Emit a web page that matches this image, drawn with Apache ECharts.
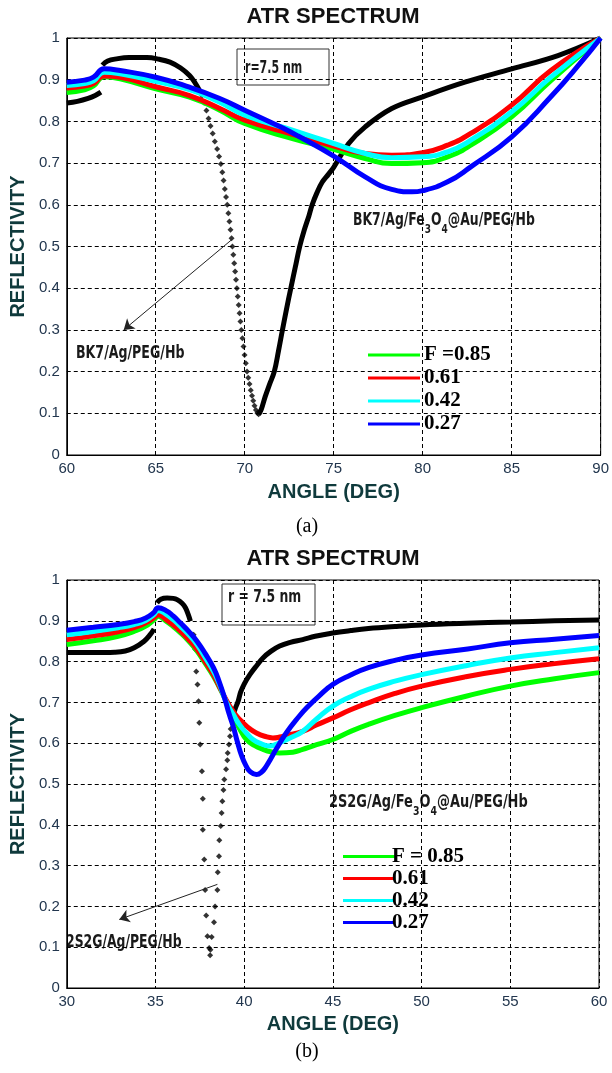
<!DOCTYPE html>
<html>
<head>
<meta charset="utf-8">
<script src="https://cdn.jsdelivr.net/npm/echarts@6/dist/echarts.min.js"></script>
<style>
  html, body { margin: 0; padding: 0; background: #fff; }
  #chart { width: 612px; height: 1073px; }
</style>
</head>
<body>
<div id="chart"></div>
<script>
// ---------- (a) BK7 prism : reflectivity vs angle (60–90 deg) ----------
const xTicksA = [60, 90, 5];
// bare BK7/Ag/PEG/Hb : continuous parts ('-' breaks the line)
const bk7Line = [
  [60, 0.844], [60.6, 0.848], [61.2, 0.855], [61.6, 0.862], [61.92, 0.87], [61.96, '-'],
  [62.0, 0.935], [62.3, 0.945], [62.8, 0.95], [63.5, 0.953], [64.5, 0.953], [65.2, 0.949],
  [65.8, 0.942], [66.4, 0.928], [66.9, 0.91], [67.2, 0.893], [67.45, 0.875], [67.5, '-'],
  [70.78, 0.098], [70.92, 0.108], [71.15, 0.14], [71.4, 0.17], [71.66, 0.2], [71.9, 0.25],
  [72.12, 0.3], [72.35, 0.35], [72.59, 0.4], [72.84, 0.45], [73.09, 0.5], [73.35, 0.54],
  [73.61, 0.574], [73.79, 0.6], [74.05, 0.628], [74.35, 0.654], [74.7, 0.673], [75.0, 0.69],
  [75.84, 0.747], [76.77, 0.787], [78.26, 0.831], [80, 0.859], [82.37, 0.894], [85, 0.926],
  [87.6, 0.958], [90, 1.0]
];
// bare BK7/Ag/PEG/Hb : separate points on the steep falling edge
const bk7Dots = [
  [67.6, 0.862], [67.72, 0.845], [67.85, 0.826], [67.97, 0.807], [68.08, 0.789], [68.2, 0.771],
  [68.32, 0.752], [68.45, 0.734], [68.56, 0.716], [68.66, 0.698], [68.74, 0.678], [68.81, 0.658],
  [68.88, 0.638], [68.95, 0.619], [69.02, 0.6], [69.08, 0.58], [69.14, 0.56], [69.2, 0.54],
  [69.26, 0.52], [69.31, 0.5], [69.36, 0.48], [69.41, 0.46], [69.46, 0.44], [69.51, 0.42],
  [69.56, 0.4], [69.61, 0.38], [69.66, 0.36], [69.71, 0.34], [69.76, 0.32], [69.81, 0.3],
  [69.87, 0.28], [69.93, 0.26], [69.99, 0.24], [70.06, 0.22], [70.13, 0.2], [70.2, 0.185],
  [70.27, 0.17], [70.34, 0.155], [70.41, 0.142], [70.48, 0.13], [70.55, 0.118], [70.63, 0.108],
  [70.71, 0.101], [70.78, 0.098]
];
const a085 = [
  [60, 0.869], [61, 0.876], [61.5, 0.885], [62.1, 0.907], [63, 0.902], [65, 0.878], [66.9, 0.858],
  [68.6, 0.827], [70, 0.795], [72.68, 0.759], [75, 0.733], [76.77, 0.711], [78.26, 0.699],
  [80, 0.701], [81.4, 0.715], [82.7, 0.743], [85, 0.811], [87.2, 0.898], [90, 1.0]
];
const a061 = [
  [60, 0.88], [61, 0.885], [61.5, 0.891], [62.1, 0.909], [63, 0.906], [65, 0.883], [66.9, 0.862],
  [68.6, 0.831], [70, 0.803], [72.68, 0.769], [75, 0.741], [76.77, 0.723], [78.26, 0.719],
  [80, 0.725], [81.4, 0.743], [82.7, 0.771], [85, 0.839], [87.2, 0.922], [90, 1.0]
];
const a042 = [
  [60, 0.886], [61, 0.891], [61.5, 0.897], [62.1, 0.918], [63, 0.914], [65, 0.896], [66.9, 0.876],
  [68.6, 0.846], [70, 0.815], [72.68, 0.779], [75, 0.747], [76.77, 0.723], [78.26, 0.713],
  [80, 0.715], [81.4, 0.727], [82.7, 0.755], [85, 0.823], [87.2, 0.906], [90, 1.0]
];
const a027 = [
  [60, 0.894], [61, 0.899], [61.5, 0.906], [62.1, 0.926], [63, 0.922], [65, 0.906], [66.9, 0.882],
  [68.6, 0.855], [70, 0.827], [72, 0.787], [73, 0.765], [75, 0.717], [76.77, 0.667], [78.26, 0.637],
  [79.4, 0.631], [80, 0.634], [81.4, 0.655], [82.7, 0.691], [85, 0.763], [87.2, 0.859],
  [88.9, 0.942], [90, 1.0]
];
const arrowA = [[69.26, 0.516], [63.2, 0.30]];

// ---------- (b) 2S2G prism : reflectivity vs angle (30–60 deg) ----------
const xTicksB = [30, 60, 5];
const s2gLine = [
  [30, 0.822], [31.5, 0.822], [32.7, 0.823], [33.3, 0.826], [33.8, 0.834], [34.36, 0.85],
  [34.7, 0.866], [34.92, 0.88], [35.0, '-'],
  [35.08, 0.944], [35.3, 0.953], [35.66, 0.956], [36.0, 0.955], [36.22, 0.952], [36.5, 0.943],
  [36.69, 0.932], [36.85, 0.915], [36.97, 0.899], [37.0, '-'],
  [39.4, 0.67], [39.48, 0.683], [39.66, 0.703], [39.8, 0.725], [40.0, 0.745], [40.32, 0.768],
  [40.7, 0.79], [41.06, 0.809], [41.5, 0.825], [42, 0.838], [42.6, 0.847], [43.3, 0.854],
  [44, 0.862], [45, 0.87], [46, 0.876], [47, 0.881], [48.5, 0.886], [50, 0.89], [52.5, 0.894],
  [55, 0.897], [57.5, 0.9], [60, 0.902]
];
const s2gDots = [
  [37.15, 0.866], [37.24, 0.83], [37.3, 0.776], [37.37, 0.744], [37.43, 0.703], [37.47, 0.65],
  [37.52, 0.597], [37.62, 0.531], [37.67, 0.464], [37.67, 0.388], [37.75, 0.315], [37.8, 0.24],
  [37.86, 0.178], [37.93, 0.127], [38.03, 0.098], [38.08, 0.08],
  [38.1, 0.094], [38.17, 0.125], [38.3, 0.161], [38.36, 0.2], [38.49, 0.24], [38.51, 0.284],
  [38.58, 0.323], [38.6, 0.362], [38.68, 0.397], [38.73, 0.429], [38.77, 0.458], [38.83, 0.485],
  [38.88, 0.511], [38.98, 0.536], [39.05, 0.558], [39.07, 0.576], [39.14, 0.597], [39.2, 0.617],
  [39.24, 0.635], [39.33, 0.654]
];
const b085 = [
  [30, 0.842], [31.5, 0.851], [32.9, 0.862], [33.8, 0.874], [34.45, 0.887], [34.9, 0.902],
  [35.15, 0.911], [35.6, 0.899], [36.0, 0.886], [36.4, 0.871], [36.9, 0.849], [37.34, 0.826],
  [37.8, 0.796], [38.27, 0.764], [38.8, 0.72], [39.39, 0.666], [39.75, 0.635], [40.13, 0.609],
  [40.6, 0.594], [41.06, 0.585], [41.5, 0.579], [42.0, 0.576], [42.74, 0.578], [43.3, 0.585],
  [43.85, 0.593], [45, 0.609], [46, 0.629], [47, 0.646], [48.5, 0.668], [50, 0.687],
  [52.5, 0.715], [55, 0.74], [57.5, 0.758], [60, 0.773]
];
const b061 = [
  [30, 0.854], [31.5, 0.863], [32.9, 0.873], [33.8, 0.883], [34.45, 0.895], [34.9, 0.907],
  [35.15, 0.915], [35.6, 0.903], [36.0, 0.89], [36.4, 0.875], [36.9, 0.853], [37.34, 0.83],
  [37.8, 0.8], [38.27, 0.768], [38.7, 0.73], [39.2, 0.69], [39.55, 0.668], [39.94, 0.65],
  [40.3, 0.636], [40.69, 0.625], [41.15, 0.617], [41.62, 0.613], [42.0, 0.615], [42.37, 0.619],
  [43.3, 0.629], [44.1, 0.645], [45, 0.662], [46, 0.682], [47, 0.699], [48.5, 0.722], [50, 0.74],
  [52.5, 0.763], [55, 0.781], [57.5, 0.795], [60, 0.807]
];
const b042 = [
  [30, 0.866], [31.5, 0.874], [32.9, 0.883], [33.8, 0.891], [34.45, 0.901], [34.9, 0.915],
  [35.15, 0.925], [35.6, 0.916], [36.0, 0.903], [36.4, 0.887], [36.9, 0.865], [37.34, 0.842],
  [37.8, 0.81], [38.27, 0.776], [38.6, 0.745], [39.0, 0.7], [39.39, 0.67], [39.75, 0.645],
  [40.13, 0.625], [40.5, 0.609], [40.88, 0.6], [41.44, 0.593], [41.8, 0.597], [42.18, 0.605],
  [42.7, 0.615], [43.3, 0.629], [44.1, 0.66], [45, 0.691], [46, 0.714], [47, 0.732],
  [48.5, 0.752], [50, 0.768], [52.5, 0.79], [55, 0.809], [57.5, 0.822], [60, 0.834]
];
const b027 = [
  [30, 0.877], [31.5, 0.884], [32.9, 0.891], [33.8, 0.898], [34.45, 0.907], [34.9, 0.92],
  [35.15, 0.932], [35.6, 0.925], [36.0, 0.912], [36.4, 0.895], [36.9, 0.873], [37.34, 0.85],
  [37.8, 0.82], [38.27, 0.785], [38.6, 0.75], [38.92, 0.707], [39.15, 0.672], [39.39, 0.64],
  [39.62, 0.603], [39.85, 0.57], [40.1, 0.545], [40.32, 0.531], [40.69, 0.523], [41.0, 0.53],
  [41.25, 0.544], [41.5, 0.562], [41.8, 0.585], [42.37, 0.625], [43.1, 0.666], [43.6, 0.69],
  [44.2, 0.715], [45, 0.744], [46, 0.767], [47, 0.785], [48.5, 0.803], [50, 0.816],
  [52.6, 0.831], [55, 0.846], [57.5, 0.855], [60, 0.864]
];
const arrowB = [[38.49, 0.254], [32.96, 0.168]];

const fillNames = ['0.85', '0.61', '0.42', '0.27'];
const fillColors = ['#00ff00', '#ff0000', '#00ffff', '#0000ff'];

// ---------- shared styling ----------
const tickColor = '#22364e';
const nameColor = '#0f3a3c';
const dash = { color: '#000', type: [4, 3], width: 1 };

function xAxisOf(gridIndex, ticks, gap) {
  return {
    gridIndex, type: 'value', min: ticks[0], max: ticks[1], interval: ticks[2],
    axisLine: { show: true, lineStyle: { color: '#000', width: 1 } },
    axisTick: { show: false },
    splitLine: { show: true, lineStyle: dash },
    axisLabel: { color: tickColor, fontSize: 15, margin: 6, fontFamily: 'Liberation Sans' },
    name: 'ANGLE (DEG)', nameLocation: 'middle', nameGap: gap,
    nameTextStyle: { color: nameColor, fontSize: 20, fontWeight: 'bold', fontFamily: 'Liberation Sans' }
  };
}
function yAxisOf(gridIndex, gap) {
  return {
    gridIndex, type: 'value', min: 0, max: 1, interval: 0.1,
    axisLine: { show: true, lineStyle: { color: '#000', width: 1 } },
    axisTick: { show: false },
    splitLine: { show: true, lineStyle: dash },
    axisLabel: { color: tickColor, fontSize: 15, margin: 7, fontFamily: 'Liberation Sans' },
    name: 'REFLECTIVITY', nameLocation: 'middle', nameRotate: 90, nameGap: gap,
    nameTextStyle: { color: nameColor, fontSize: 20, fontWeight: 'bold', fontFamily: 'Liberation Sans' }
  };
}
function curve(name, data, color, idx, width) {
  return {
    name, type: 'line', data, xAxisIndex: idx, yAxisIndex: idx,
    showSymbol: false, smooth: 0.5,
    lineStyle: { color, width }, itemStyle: { color }, z: 3
  };
}
function blackLine(data, idx, width) {
  return {
    type: 'line', data, xAxisIndex: idx, yAxisIndex: idx, showSymbol: false,
    smooth: 0.4, connectNulls: false,
    lineStyle: { color: '#000', width }, itemStyle: { color: '#000' }, z: 2
  };
}
function blackDots(data, idx, arrow) {
  return {
    type: 'scatter', data, xAxisIndex: idx, yAxisIndex: idx,
    symbol: 'diamond', symbolSize: 6, itemStyle: { color: '#000' }, z: 2,
    markLine: {
      silent: true, symbol: ['none', 'arrow'], symbolSize: 10,
      lineStyle: { color: '#222', width: 1, type: 'solid' },
      label: { show: false },
      data: [[{ coord: arrow[0] }, { coord: arrow[1] }]]
    }
  };
}
function legendOf(names, left, top, lh, textPad) {
  return {
    data: names, orient: 'vertical', left, top, selectedMode: false,
    icon: 'rect', itemWidth: 52, itemHeight: 3, itemGap: 1,
    textStyle: {
      fontFamily: 'Liberation Serif', fontWeight: 'bold', fontSize: 21, color: '#000',
      lineHeight: lh, padding: [0, 0, 0, textPad]
    }
  };
}

// narrow bold annotation text
const annoFont = 'bold 18px "DejaVu Sans"';
function anno(x, y, text, sx, rich) {
  return {
    type: 'text', x, y, scaleX: sx, silent: true,
    style: {
      text, font: annoFont, fill: '#1a1a1a',
      align: 'left', verticalAlign: 'middle', textAlign: 'left', textVerticalAlign: 'middle',
      rich: rich ? {
        s: { font: 'bold 13px "DejaVu Sans"', fill: '#1a1a1a', padding: [20, 0, 0, 0] }
      } : undefined
    }
  };
}
function plain(x, y, text, font, fill) {
  return {
    type: 'text', x, y, silent: true,
    style: { text, font, fill, align: 'center', verticalAlign: 'middle',
             textAlign: 'center', textVerticalAlign: 'middle' }
  };
}
function box(x, y, w, h) {
  return { type: 'rect', silent: true, shape: { x, y, width: w, height: h },
           style: { fill: 'transparent', stroke: '#333', lineWidth: 1 } };
}

const namesA = ['F =' + fillNames[0], fillNames[1], fillNames[2], fillNames[3]];
const namesB = ['F = ' + fillNames[0], fillNames[1], fillNames[2], fillNames[3]];

const option = {
  animation: false,
  backgroundColor: '#fff',
  grid: [
    { left: 66, top: 38, width: 538, height: 417, show: true, borderColor: '#000', borderWidth: 1, backgroundColor: '#fff' },
    { left: 62, top: 580, width: 537, height: 408, show: true, borderColor: '#000', borderWidth: 1, backgroundColor: '#fff' }
  ],
  xAxis: [xAxisOf(0, xTicksA, 27), xAxisOf(1, xTicksB, 26)],
  yAxis: [yAxisOf(0, 38), yAxisOf(1, 38)],
  legend: [
    legendOf(namesA, 363, 339, 22, -1),
    legendOf(namesB, 338, 841, 20, -8)
  ],
  series: [
    blackLine(bk7Line, 0, 5),
    blackDots(bk7Dots, 0, arrowA),
    curve(namesA[0], a085, fillColors[0], 0, 5),
    curve(namesA[1], a061, fillColors[1], 0, 5),
    curve(namesA[2], a042, fillColors[2], 0, 5),
    curve(namesA[3], a027, fillColors[3], 0, 5),

    blackLine(s2gLine, 1, 5),
    blackDots(s2gDots, 1, arrowB),
    curve(namesB[0], b085, fillColors[0], 1, 5),
    curve(namesB[1], b061, fillColors[1], 1, 5),
    curve(namesB[2], b042, fillColors[2], 1, 5),
    curve(namesB[3], b027, fillColors[3], 1, 5)
  ],
  graphic: [
    plain(333, 17, 'ATR SPECTRUM', 'bold 22px "Liberation Sans"', '#111'),
    plain(333, 559, 'ATR SPECTRUM', 'bold 22px "Liberation Sans"', '#111'),
    plain(307, 527, '(a)', '20px "Liberation Serif"', '#000'),
    plain(307, 1052, '(b)', '20px "Liberation Serif"', '#000'),

    box(237, 49, 92, 36),
    anno(245, 68, 'r=7.5 nm', 0.61),
    anno(353, 220, 'BK7/Ag/Fe{s|3}O{s|4}@Au/PEG/Hb', 0.69, true),
    anno(76, 353, 'BK7/Ag/PEG/Hb', 0.7),

    box(222, 584, 93, 41),
    anno(228, 597, 'r = 7.5 nm', 0.69),
    anno(329, 802, '2S2G/Ag/Fe{s|3}O{s|4}@Au/PEG/Hb', 0.72, true),
    anno(66, 942, '2S2G/Ag/PEG/Hb', 0.69)
  ]
};

const chart = echarts.init(document.getElementById('chart'), null, { renderer: 'canvas' });
chart.setOption(option);
</script>
</body>
</html>
